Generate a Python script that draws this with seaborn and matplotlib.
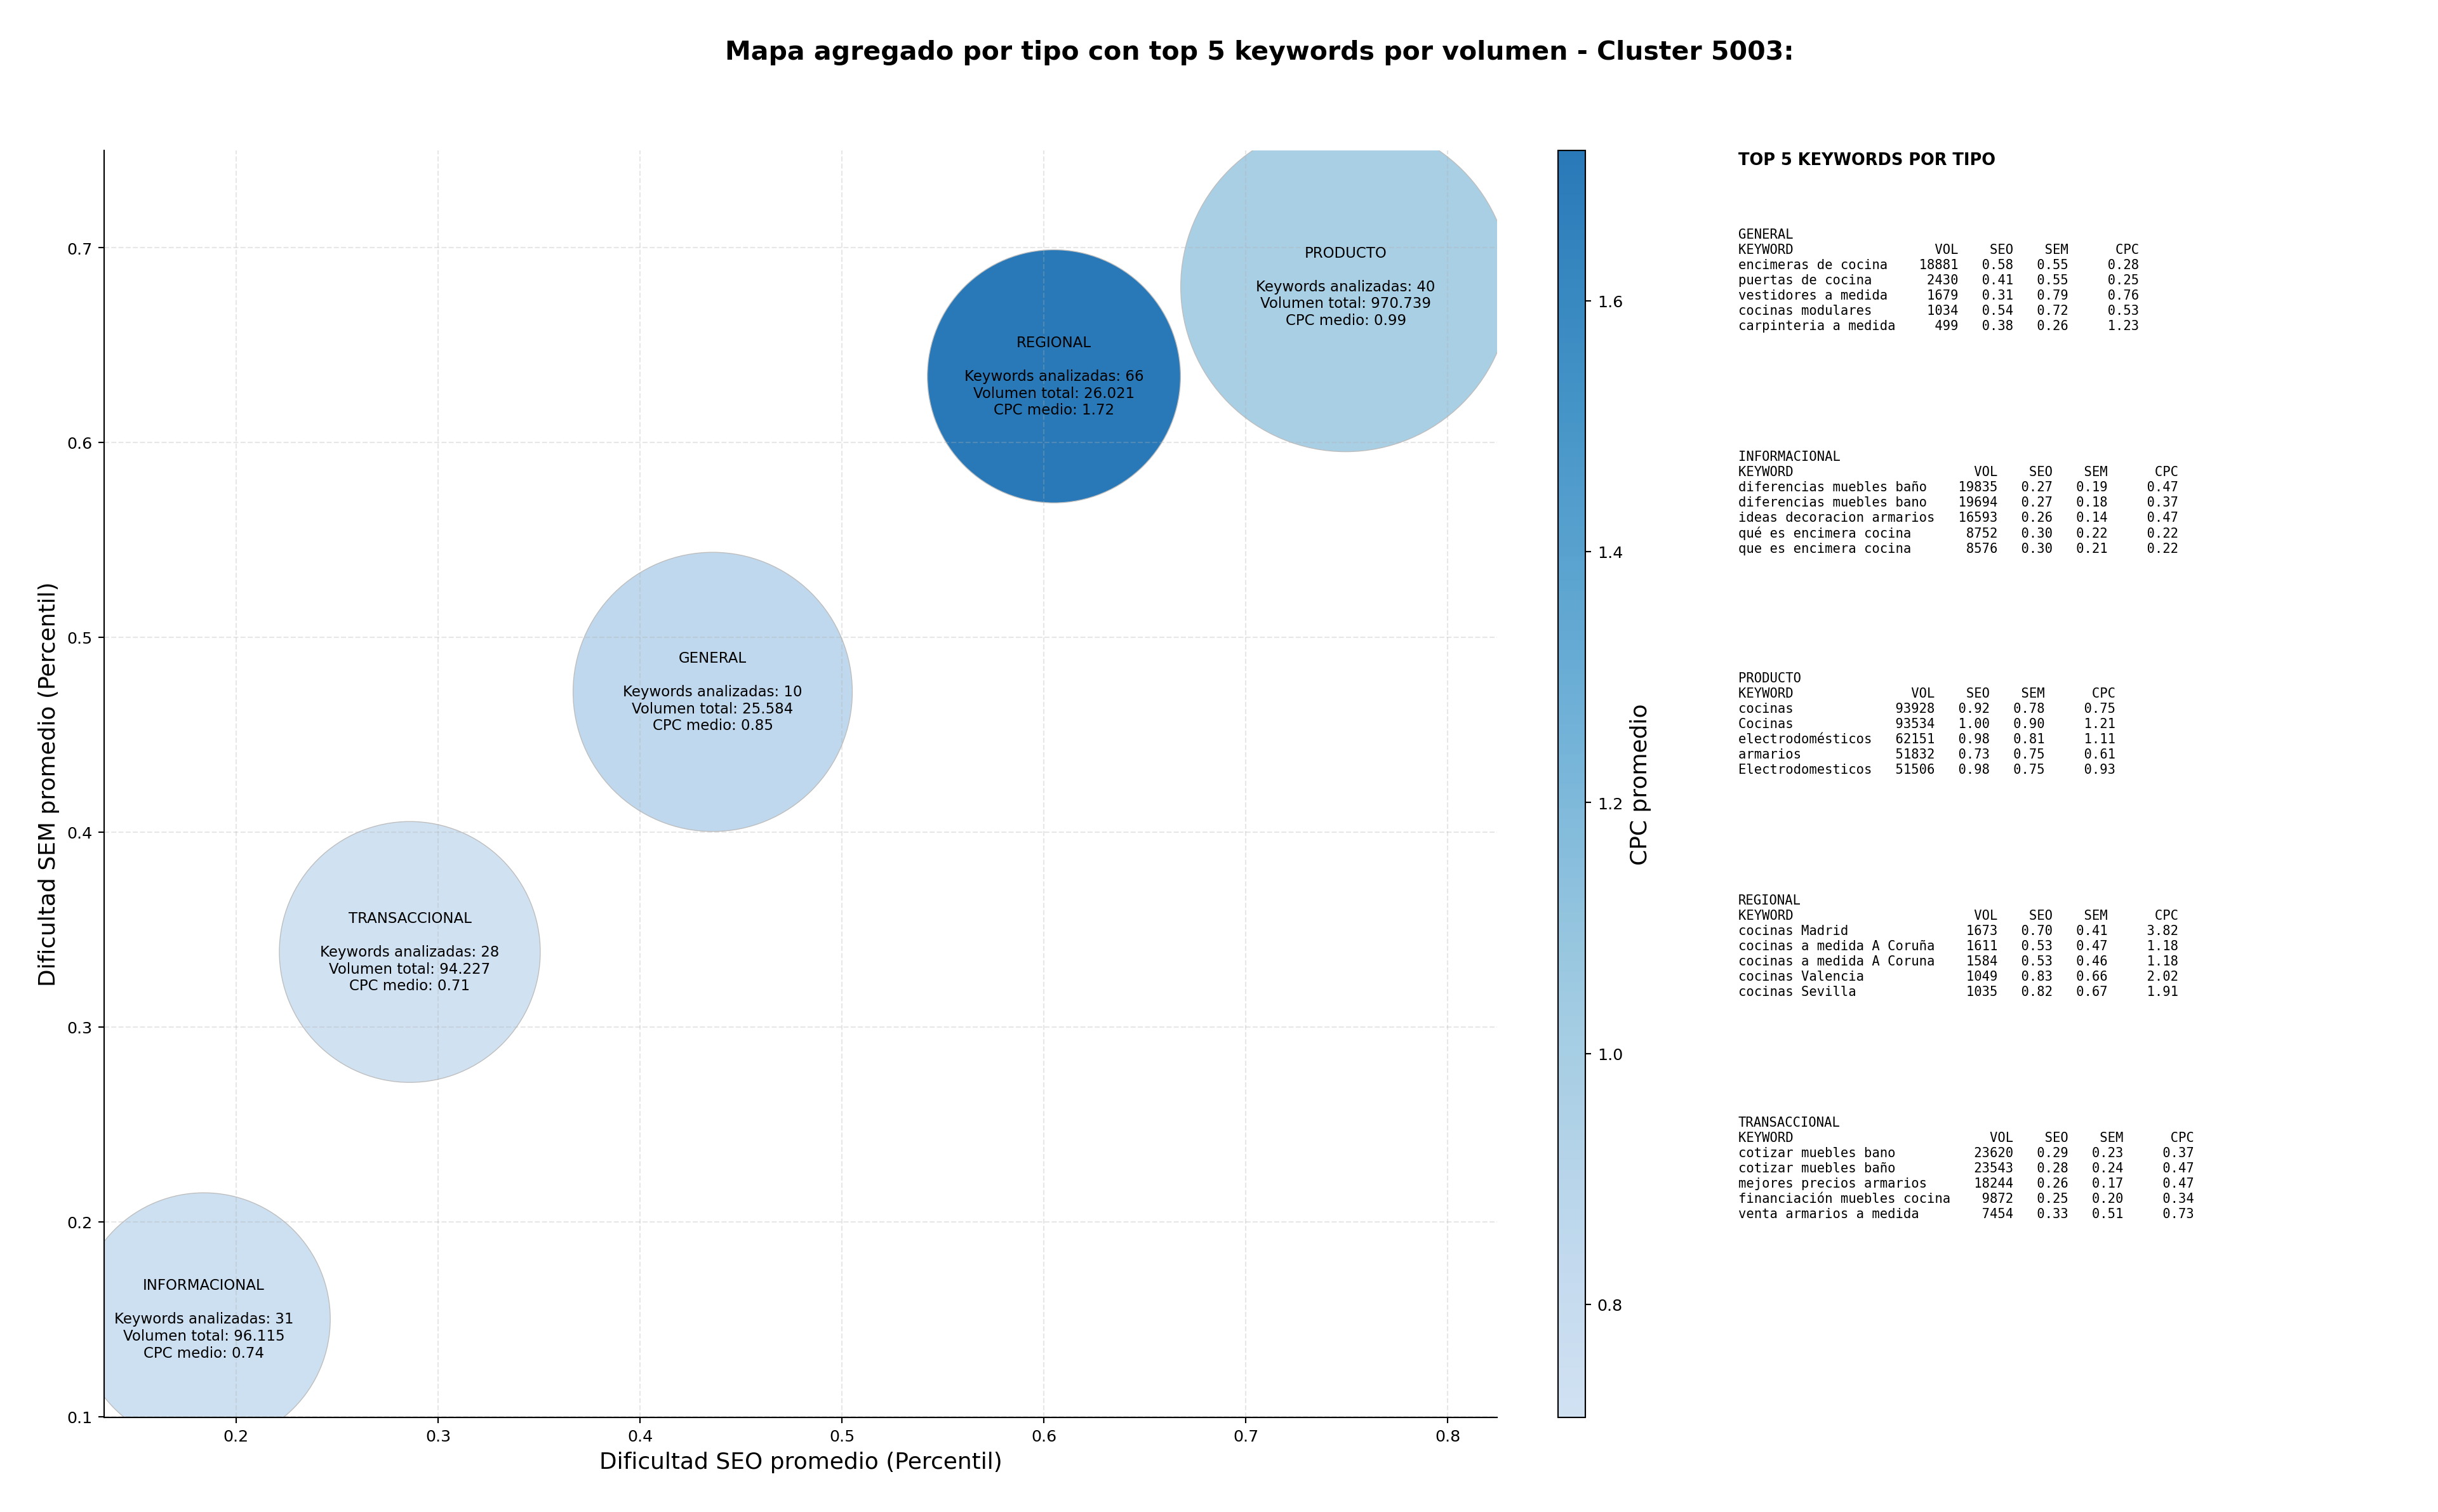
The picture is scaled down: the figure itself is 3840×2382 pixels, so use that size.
import numpy as np
import pandas as pd
import matplotlib
matplotlib.use("Agg")
import matplotlib.pyplot as plt
import seaborn as sns
from matplotlib.colors import ListedColormap, Normalize
from matplotlib.cm import ScalarMappable

# Datos agregados por tipo
tipos = ["GENERAL", "INFORMACIONAL", "PRODUCTO", "REGIONAL", "TRANSACCIONAL"]
seo_medio = [0.436, 0.184, 0.7495, 0.605, 0.286]
sem_medio = [0.472, 0.150, 0.680, 0.634, 0.3385]
cpc_medio = [0.85, 0.74, 0.99, 1.72, 0.71]
n_keywords = [10, 31, 40, 66, 28]
volumen_total = [25584, 96115, 970739, 26021, 94227]

# Top 5 keywords por tipo: (keyword, volumen, seo, sem, cpc)
top_general = [
    ("encimeras de cocina", 18881, 0.58, 0.55, 0.28),
    ("puertas de cocina", 2430, 0.41, 0.55, 0.25),
    ("vestidores a medida", 1679, 0.31, 0.79, 0.76),
    ("cocinas modulares", 1034, 0.54, 0.72, 0.53),
    ("carpinteria a medida", 499, 0.38, 0.26, 1.23),
]
top_informacional = [
    ("diferencias muebles baño", 19835, 0.27, 0.19, 0.47),
    ("diferencias muebles bano", 19694, 0.27, 0.18, 0.37),
    ("ideas decoracion armarios", 16593, 0.26, 0.14, 0.47),
    ("qué es encimera cocina", 8752, 0.30, 0.22, 0.22),
    ("que es encimera cocina", 8576, 0.30, 0.21, 0.22),
]
top_producto = [
    ("cocinas", 93928, 0.92, 0.78, 0.75),
    ("Cocinas", 93534, 1.00, 0.90, 1.21),
    ("electrodomésticos", 62151, 0.98, 0.81, 1.11),
    ("armarios", 51832, 0.73, 0.75, 0.61),
    ("Electrodomesticos", 51506, 0.98, 0.75, 0.93),
]
top_regional = [
    ("cocinas Madrid", 1673, 0.70, 0.41, 3.82),
    ("cocinas a medida A Coruña", 1611, 0.53, 0.47, 1.18),
    ("cocinas a medida A Coruna", 1584, 0.53, 0.46, 1.18),
    ("cocinas Valencia", 1049, 0.83, 0.66, 2.02),
    ("cocinas Sevilla", 1035, 0.82, 0.67, 1.91),
]
top_transaccional = [
    ("cotizar muebles bano", 23620, 0.29, 0.23, 0.37),
    ("cotizar muebles baño", 23543, 0.28, 0.24, 0.47),
    ("mejores precios armarios", 18244, 0.26, 0.17, 0.47),
    ("financiación muebles cocina", 9872, 0.25, 0.20, 0.34),
    ("venta armarios a medida", 7454, 0.33, 0.51, 0.73),
]
tops = [top_general, top_informacional, top_producto, top_regional, top_transaccional]

# tamaño de burbuja (area en pt^2) por tipo
bubble_area = {"GENERAL": 27200, "INFORMACIONAL": 22300, "PRODUCTO": 38000,
               "REGIONAL": 22350, "TRANSACCIONAL": 23750}

df = pd.DataFrame({"tipo": tipos, "seo": seo_medio, "sem": sem_medio,
                   "cpc": cpc_medio, "n": n_keywords, "vol": volumen_total})

blues = sns.color_palette("Blues", as_cmap=True)
cmap = ListedColormap(blues(np.linspace(0.2, 0.72, 256)))
norm = Normalize(vmin=df["cpc"].min(), vmax=df["cpc"].max())

fig = plt.figure(figsize=(20, 12.41), dpi=192)
ax = fig.add_axes([0.0427, 0.0627, 0.5714, 0.8376])

sns.scatterplot(data=df, x="seo", y="sem", hue="cpc", palette=cmap, hue_norm=norm,
                size="tipo", sizes=bubble_area, edgecolor="#bdbdbd", linewidth=0.5,
                legend=False, ax=ax)

for _, r in df.iterrows():
    vol_txt = f"{r['vol']:,}".replace(",", ".")
    ax.text(r["seo"], r["sem"],
            f"{r['tipo']}\n\nKeywords analizadas: {r['n']}\nVolumen total: {vol_txt}\nCPC medio: {r['cpc']:.2f}",
            ha="center", va="center", fontsize=8.6)

ax.set_xlim(0.1346, 0.8245)
ax.set_ylim(0.0997, 0.75)
ax.set_xlabel("Dificultad SEO promedio (Percentil)", fontsize=13.5)
ax.set_ylabel("Dificultad SEM promedio (Percentil)", fontsize=13.5)
ax.tick_params(labelsize=9.5)
ax.grid(True, linestyle="--", alpha=0.3)
sns.despine(ax=ax)

cax = fig.add_axes([0.639, 0.0627, 0.0113, 0.8376])
cb = fig.colorbar(ScalarMappable(norm=norm, cmap=cmap), cax=cax)
cb.set_label("CPC promedio", fontsize=13.5)
cb.ax.tick_params(labelsize=9.5)

fig.suptitle("Mapa agregado por tipo con top 5 keywords por volumen - Cluster 5003:",
             fontsize=15.4, fontweight="bold", x=0.5166, y=0.965, va="center")

# panel de texto con top keywords
fig.text(0.713, 0.894, "TOP 5 KEYWORDS POR TIPO", fontsize=9.6, fontweight="bold", va="center")
for i, (tipo, top) in enumerate(zip(tipos, tops)):
    w = max(len(k[0]) for k in top)
    lines = [tipo, f"{'KEYWORD':<{w}}{'VOL':>8}{'SEO':>7}{'SEM':>7}{'CPC':>9}"]
    for kw, vol, seo, sem, cpc in top:
        lines.append(f"{kw:<{w}}{vol:>8}{seo:>7.2f}{sem:>7.2f}{cpc:>9.2f}")
    fig.text(0.713, 0.849 - i * 0.1468, "\n".join(lines), fontsize=7.7,
             family="DejaVu Sans Mono", va="top", linespacing=1.25)

fig.savefig("out.png", dpi=192)
